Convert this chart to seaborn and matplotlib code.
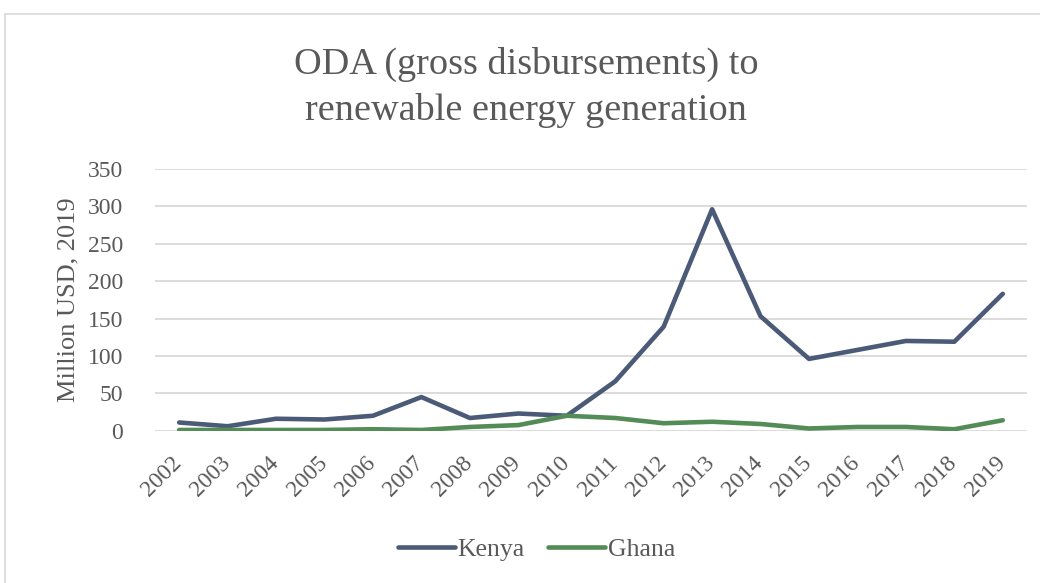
import pandas as pd
import seaborn as sns
import matplotlib.pyplot as plt
from matplotlib.patches import Rectangle
from matplotlib.transforms import ScaledTranslation

# Data (Million USD, 2019)
years = list(range(2002, 2020))
kenya = [11, 6, 16, 15, 20, 45, 17, 23, 20, 66, 139, 296, 153, 96, 108, 120, 119, 183]
ghana = [1, 1, 1, 1, 2, 1, 5, 7.5, 20, 17, 10, 12, 9, 3, 5, 5, 2, 14]

df = pd.DataFrame({
    'Year': [str(y) for y in years] * 2,
    'Value': kenya + ghana,
    'Country': ['Kenya'] * len(years) + ['Ghana'] * len(years),
})

sns.set_style('white')
plt.rcParams['font.family'] = ['Liberation Serif', 'DejaVu Serif']
grey = '#595959'

fig = plt.figure(figsize=(10.4, 5.83), dpi=100)
fig.patches.append(Rectangle((5 / 1040, -0.2), 1.2, 1.2 - 14 / 583, transform=fig.transFigure,
                             fill=False, edgecolor='#d9d9d9', linewidth=1.2))
ax = fig.add_axes([0.149, 0.2612, 0.8385, 0.4491])

pal = {'Kenya': '#4b5a77', 'Ghana': '#548c57'}
sns.lineplot(data=df, x='Year', y='Value', hue='Country', palette=pal, linewidth=3.3,
             ax=ax, legend=False, sort=False)
for ln in ax.lines:
    ln.set_solid_capstyle('round')
    ln.set_solid_joinstyle('round')

ax.set_xlim(-0.5, len(years) - 0.5)
ax.set_ylim(0, 350)
ax.set_yticks(range(0, 351, 50))
ax.yaxis.grid(True, color='#d9d9d9', linewidth=1.3)
ax.set_axisbelow(True)
for s in ax.spines.values():
    s.set_visible(False)

ax.tick_params(axis='both', length=0, labelsize=17, labelcolor=grey)
ax.tick_params(axis='y', pad=23)
ax.tick_params(axis='x', pad=10)
shift = ScaledTranslation(-0.08, -0.08, fig.dpi_scale_trans)
for lab in ax.get_xticklabels():
    lab.set_rotation(45)
    lab.set_ha('right')
    lab.set_va('top')
    lab.set_rotation_mode('anchor')
    lab.set_transform(lab.get_transform() + shift)

ax.set_xlabel('')
ax.set_ylabel('Million USD, 2019', fontsize=19, color=grey, labelpad=6)

fig.text(0.506, 0.85, 'ODA (gross disbursements) to\nrenewable energy generation',
         ha='center', va='center', fontsize=27.5, color=grey, linespacing=1.4)

handles = [plt.Line2D([], [], color=pal[c], linewidth=3.3, solid_capstyle='round') for c in pal]
leg = fig.legend(handles, list(pal), loc='center', bbox_to_anchor=(0.516, 0.058), ncol=2,
                 frameon=False, fontsize=18.5, handlelength=2.2, handletextpad=0.12,
                 columnspacing=0.9)
for t in leg.get_texts():
    t.set_color(grey)

fig.savefig('out.png', dpi=100, facecolor='white')
